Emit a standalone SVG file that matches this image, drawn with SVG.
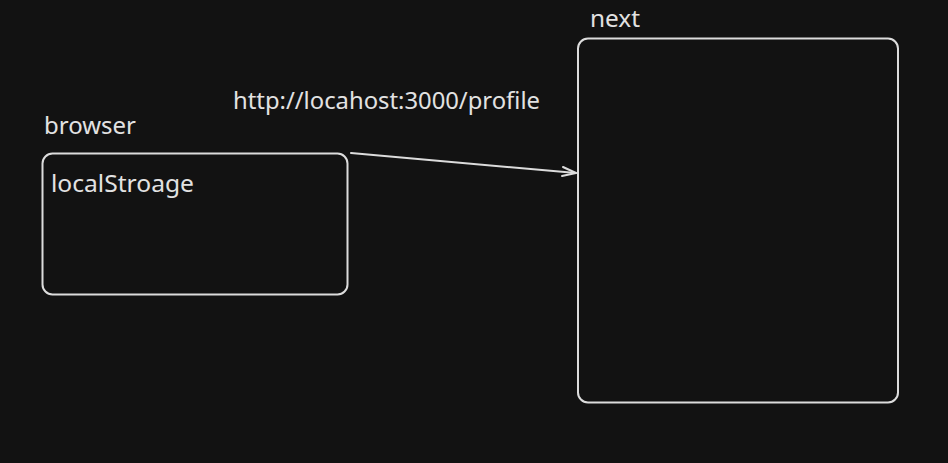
<svg xmlns="http://www.w3.org/2000/svg" width="948" height="463" viewBox="0 0 948 463">
<style>
.box{fill:none;stroke:#dcdcdc;stroke-width:2}
.lbl{fill:#e2e2e2;font-family:"Noto Sans","Open Sans",sans-serif;font-size:23px}
.conn{fill:none;stroke:#dcdcdc;stroke-width:2;stroke-linecap:round;stroke-linejoin:round}
</style>
<rect width="948" height="463" fill="#121212"/>
<g id="browser">
<text class="lbl" x="44" y="134" textLength="92" lengthAdjust="spacingAndGlyphs">browser</text>
<rect class="box" x="42.5" y="153.5" width="305" height="141" rx="10"/>
<text class="lbl" x="51" y="192" textLength="143" lengthAdjust="spacingAndGlyphs">localStroage</text>
</g>
<g id="next">
<text class="lbl" x="590" y="27" textLength="50" lengthAdjust="spacingAndGlyphs">next</text>
<rect class="box" x="578" y="38.5" width="320" height="364" rx="10"/>
</g>
<g id="connectors">
<path class="conn" d="M351 153 L576 173"/>
<path class="conn" d="M563 167 L576 173 L562 176"/>
<text class="lbl" x="233" y="109" textLength="307" lengthAdjust="spacingAndGlyphs">http://locahost:3000/profile</text>
</g>
</svg>
